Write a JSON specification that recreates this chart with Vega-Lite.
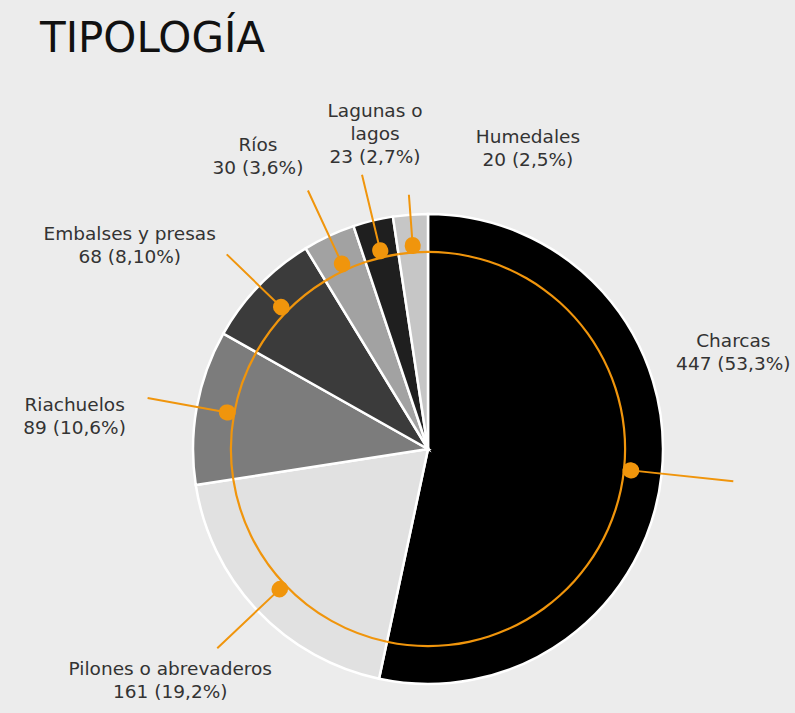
{
  "$schema": "https://vega.github.io/schema/vega-lite/v6.json",
  "width": 734,
  "height": 528,
  "autosize": {"type": "none"},
  "padding": {"left": 61, "top": 185, "right": 0, "bottom": 0},
  "background": "#ececec",
  "config": {"view": {"stroke": null}},
  "title": {
    "text": "TIPOLOGÍA",
    "anchor": "start",
    "frame": "group",
    "dx": -21,
    "offset": 8,
    "baseline": "alphabetic",
    "font": "DejaVu Sans",
    "fontSize": 42,
    "fontWeight": "normal",
    "color": "#111111"
  },
  "data": {
    "values": [
      {"tipo": "Charcas", "n": 447, "orden": 1, "etiqueta": "Charcas\n447 (53,3%)"},
      {"tipo": "Pilones o abrevaderos", "n": 161, "orden": 2, "etiqueta": "Pilones o abrevaderos\n161 (19,2%)"},
      {"tipo": "Riachuelos", "n": 89, "orden": 3, "etiqueta": "Riachuelos\n89 (10,6%)"},
      {"tipo": "Embalses y presas", "n": 68, "orden": 4, "etiqueta": "Embalses y presas\n68 (8,10%)"},
      {"tipo": "Ríos", "n": 30, "orden": 5, "etiqueta": "Ríos\n30 (3,6%)"},
      {"tipo": "Lagunas o lagos", "n": 23, "orden": 6, "etiqueta": "Lagunas o\nlagos\n23 (2,7%)"},
      {"tipo": "Humedales", "n": 20, "orden": 7, "etiqueta": "Humedales\n20 (2,5%)"}
    ]
  },
  "layer": [
    {
      "mark": {"type": "arc", "outerRadius": 235, "stroke": "#ffffff", "strokeWidth": 2.5},
      "encoding": {
        "theta": {"field": "n", "type": "quantitative", "stack": true, "scale": {"domain": [0, 838]}},
        "order": {"field": "orden", "type": "quantitative"},
        "color": {
          "field": "tipo",
          "type": "nominal",
          "legend": null,
          "scale": {
            "domain": ["Charcas", "Pilones o abrevaderos", "Riachuelos", "Embalses y presas", "Ríos", "Lagunas o lagos", "Humedales"],
            "range": ["#000000", "#e1e1e1", "#7c7c7c", "#3b3b3b", "#a2a2a2", "#1f1f1f", "#c6c6c6"]
          }
        }
      }
    },
    {
      "mark": {"type": "arc", "innerRadius": 196, "outerRadius": 198.2, "color": "#f0950c"},
      "encoding": {
        "theta": {"field": "n", "type": "quantitative", "stack": true},
        "order": {"field": "orden", "type": "quantitative"}
      }
    },
    {
      "transform": [
        {"stack": "n", "groupby": [], "sort": [{"field": "orden", "order": "ascending"}], "as": ["s0", "s1"]},
        {"fold": ["s0", "s1"], "as": ["k", "v"]},
        {"aggregate": [{"op": "mean", "field": "v", "as": "mid"}], "groupby": ["tipo", "etiqueta"]}
      ],
      "layer": [
        {
          "transform": [{"filter": "datum.tipo === 'Charcas'"}],
          "layer": [
            {"mark": {"type": "arc", "innerRadius": 204, "outerRadius": 307, "filled": false, "stroke": "#f0950c", "strokeWidth": 2},
             "encoding": {"theta": {"field": "mid", "type": "quantitative", "stack": null}, "theta2": {"field": "mid"}}},
            {"mark": {"type": "text", "radius": 307, "dx": 0, "dy": -140, "align": "center", "baseline": "middle", "lineBreak": "\n", "lineHeight": 23, "font": "DejaVu Sans", "fontSize": 18.5, "color": "#333333"},
             "encoding": {"theta": {"field": "mid", "type": "quantitative", "stack": null}, "text": {"field": "etiqueta"}}}
          ]
        },
        {
          "transform": [{"filter": "datum.tipo === 'Pilones o abrevaderos'"}],
          "layer": [
            {"mark": {"type": "arc", "innerRadius": 204, "outerRadius": 290, "filled": false, "stroke": "#f0950c", "strokeWidth": 2},
             "encoding": {"theta": {"field": "mid", "type": "quantitative", "stack": null}, "theta2": {"field": "mid"}}},
            {"mark": {"type": "text", "radius": 290, "dx": -47, "dy": 21, "align": "center", "baseline": "middle", "lineBreak": "\n", "lineHeight": 23, "font": "DejaVu Sans", "fontSize": 18.5, "color": "#333333"},
             "encoding": {"theta": {"field": "mid", "type": "quantitative", "stack": null}, "text": {"field": "etiqueta"}}}
          ]
        },
        {
          "transform": [{"filter": "datum.tipo === 'Riachuelos'"}],
          "layer": [
            {"mark": {"type": "arc", "innerRadius": 204, "outerRadius": 285, "filled": false, "stroke": "#f0950c", "strokeWidth": 2},
             "encoding": {"theta": {"field": "mid", "type": "quantitative", "stack": null}, "theta2": {"field": "mid"}}},
            {"mark": {"type": "text", "radius": 285, "dx": -73, "dy": 7, "align": "center", "baseline": "middle", "lineBreak": "\n", "lineHeight": 23, "font": "DejaVu Sans", "fontSize": 18.5, "color": "#333333"},
             "encoding": {"theta": {"field": "mid", "type": "quantitative", "stack": null}, "text": {"field": "etiqueta"}}}
          ]
        },
        {
          "transform": [{"filter": "datum.tipo === 'Embalses y presas'"}],
          "layer": [
            {"mark": {"type": "arc", "innerRadius": 204, "outerRadius": 280, "filled": false, "stroke": "#f0950c", "strokeWidth": 2},
             "encoding": {"theta": {"field": "mid", "type": "quantitative", "stack": null}, "theta2": {"field": "mid"}}},
            {"mark": {"type": "text", "radius": 280, "dx": -97, "dy": -20, "align": "center", "baseline": "middle", "lineBreak": "\n", "lineHeight": 23, "font": "DejaVu Sans", "fontSize": 18.5, "color": "#333333"},
             "encoding": {"theta": {"field": "mid", "type": "quantitative", "stack": null}, "text": {"field": "etiqueta"}}}
          ]
        },
        {
          "transform": [{"filter": "datum.tipo === 'Ríos'"}],
          "layer": [
            {"mark": {"type": "arc", "innerRadius": 204, "outerRadius": 285, "filled": false, "stroke": "#f0950c", "strokeWidth": 2},
             "encoding": {"theta": {"field": "mid", "type": "quantitative", "stack": null}, "theta2": {"field": "mid"}}},
            {"mark": {"type": "text", "radius": 285, "dx": -50, "dy": -46, "align": "center", "baseline": "middle", "lineBreak": "\n", "lineHeight": 23, "font": "DejaVu Sans", "fontSize": 18.5, "color": "#333333"},
             "encoding": {"theta": {"field": "mid", "type": "quantitative", "stack": null}, "text": {"field": "etiqueta"}}}
          ]
        },
        {
          "transform": [{"filter": "datum.tipo === 'Lagunas o lagos'"}],
          "layer": [
            {"mark": {"type": "arc", "innerRadius": 204, "outerRadius": 282, "filled": false, "stroke": "#f0950c", "strokeWidth": 2},
             "encoding": {"theta": {"field": "mid", "type": "quantitative", "stack": null}, "theta2": {"field": "mid"}}},
            {"mark": {"type": "text", "radius": 282, "dx": 13, "dy": -64, "align": "center", "baseline": "middle", "lineBreak": "\n", "lineHeight": 23, "font": "DejaVu Sans", "fontSize": 18.5, "color": "#333333"},
             "encoding": {"theta": {"field": "mid", "type": "quantitative", "stack": null}, "text": {"field": "etiqueta"}}}
          ]
        },
        {
          "transform": [{"filter": "datum.tipo === 'Humedales'"}],
          "layer": [
            {"mark": {"type": "arc", "innerRadius": 204, "outerRadius": 255, "filled": false, "stroke": "#f0950c", "strokeWidth": 2},
             "encoding": {"theta": {"field": "mid", "type": "quantitative", "stack": null}, "theta2": {"field": "mid"}}},
            {"mark": {"type": "text", "radius": 255, "dx": 119, "dy": -58, "align": "center", "baseline": "middle", "lineBreak": "\n", "lineHeight": 23, "font": "DejaVu Sans", "fontSize": 18.5, "color": "#333333"},
             "encoding": {"theta": {"field": "mid", "type": "quantitative", "stack": null}, "text": {"field": "etiqueta"}}}
          ]
        },
        {
          "mark": {"type": "arc", "innerRadius": 203.5, "outerRadius": 204.5, "filled": false, "stroke": "#f0950c", "strokeWidth": 16, "strokeJoin": "round", "strokeCap": "round"},
          "encoding": {"theta": {"field": "mid", "type": "quantitative", "stack": null}, "theta2": {"field": "mid"}}
        }
      ]
    }
  ]
}
